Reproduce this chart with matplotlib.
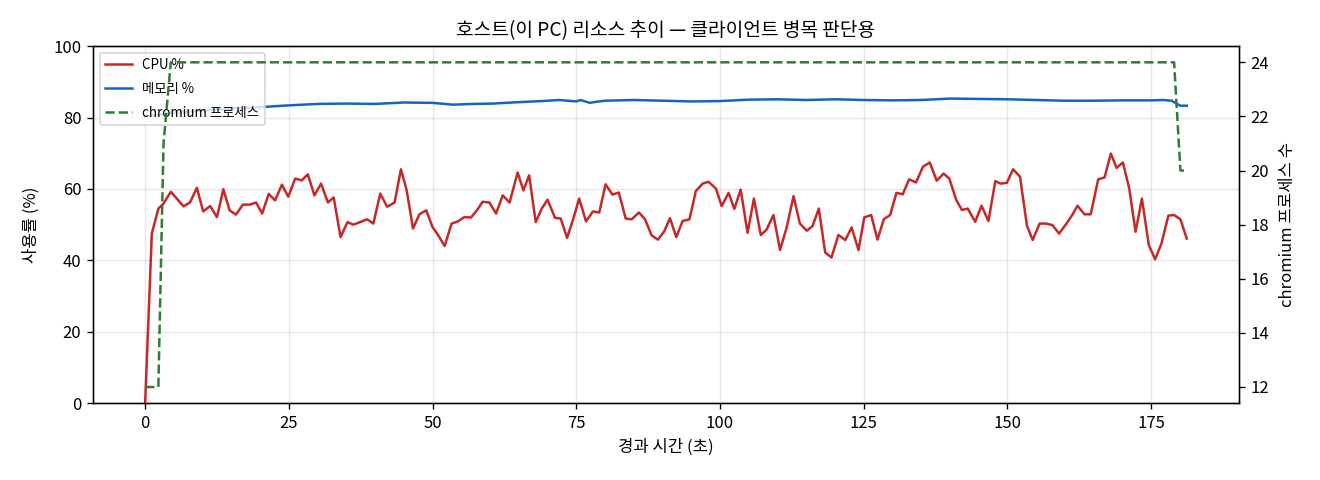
import matplotlib
matplotlib.use("Agg")
import matplotlib.pyplot as plt

plt.rcParams['font.family'] = ['Noto Sans CJK KR', 'DejaVu Sans']
plt.rcParams['axes.unicode_minus'] = False

# ---- data ----
cpu_t = [0.0, 1.16, 2.3, 3.2, 4.46, 5.5, 6.67, 7.8, 9.0, 10.1, 11.3, 12.5, 13.6, 14.7, 15.8,
         17.0, 18.2, 19.3, 20.35, 21.5, 22.6, 23.8, 24.9, 26.1, 27.25, 28.3, 29.45, 30.6, 31.8,
         32.8, 34.0, 35.2, 36.2, 37.4, 38.6, 39.7, 40.9, 42.1, 43.4, 44.5, 45.5, 46.6, 47.7,
         48.9, 50.0, 51.0, 52.1, 53.3, 54.4, 55.5, 56.7, 57.8, 58.7, 59.9, 61.05, 62.2, 63.4,
         64.8, 65.8, 66.8, 67.95, 69.0, 70.0, 71.3, 72.3, 73.4, 74.5, 75.5, 76.7, 77.9, 79.0,
         80.1, 81.3, 82.4, 83.6, 84.65, 85.9, 86.97, 88.1, 89.2, 90.3, 91.3, 92.4, 93.5, 94.7,
         95.8, 97.0, 98.0, 99.3, 100.3, 101.5, 102.5, 103.6, 104.8, 105.9, 107.1, 108.1, 109.3,
         110.45, 111.6, 112.8, 113.9, 115.1, 116.1, 117.2, 118.3, 119.4, 120.6, 121.8, 122.9,
         124.1, 125.1, 126.3, 127.4, 128.5, 129.6, 130.7, 131.8, 132.9, 134.1, 135.3, 136.5,
         137.7, 138.9, 139.9, 141.1, 142.1, 143.1, 144.4, 145.5, 146.7, 147.9, 148.8, 149.9,
         151.0, 152.2, 153.4, 154.4, 155.6, 156.7, 157.8, 159.0, 160.1, 161.2, 162.2, 163.4,
         164.5, 165.8, 166.9, 168.0, 169.0, 170.1, 171.2, 172.3, 173.4, 174.6, 175.7, 176.8,
         178.0, 179.0, 180.1, 181.2]
cpu_v = [0.0, 47.5, 54.5, 55.9, 59.2, 57.3, 55.1, 56.2, 60.3, 53.7, 55.2, 52.1, 59.9, 54.0, 52.8,
         55.6, 55.6, 56.2, 53.1, 58.6, 56.8, 61.2, 57.8, 62.9, 62.4, 64.1, 58.2, 61.5, 56.2,
         57.6, 46.5, 50.7, 50.0, 50.7, 51.5, 50.3, 58.7, 55.0, 56.2, 65.5, 59.6, 48.9, 52.9,
         54.0, 49.3, 47.0, 44.0, 50.3, 50.9, 52.1, 52.0, 54.2, 56.4, 56.2, 53.1, 58.2, 56.2,
         64.6, 59.6, 63.8, 50.7, 54.5, 57.0, 51.9, 51.7, 46.3, 51.7, 57.3, 50.9, 53.7, 53.4,
         61.3, 58.4, 59.0, 51.7, 51.5, 53.4, 51.5, 47.0, 45.8, 48.1, 51.8, 46.5, 51.0, 51.5,
         59.4, 61.5, 62.0, 60.1, 55.2, 58.9, 54.4, 59.8, 47.7, 57.3, 47.1, 48.6, 52.7,
         42.9, 49.2, 58.0, 50.3, 48.3, 49.6, 54.5, 42.2, 40.8, 47.1, 45.7, 49.2,
         42.9, 52.0, 52.7, 45.8, 51.5, 52.7, 58.9, 58.5, 62.7, 61.8, 66.2, 67.4,
         62.3, 64.3, 62.9, 56.9, 54.1, 54.5, 50.8, 55.3, 51.0, 62.2, 61.5, 61.7,
         65.5, 63.4, 49.7, 45.7, 50.3, 50.3, 49.9, 47.5, 49.9, 52.5, 55.3, 52.9,
         52.9, 62.7, 63.2, 69.9, 65.9, 67.4, 60.1, 48.0, 57.3, 44.3, 40.3, 44.7,
         52.5, 52.7, 51.5, 46.1]

mem_t = [0, 5, 10, 15, 20, 25, 30, 35, 40, 45, 50, 53.5, 57, 60.5, 65, 69, 72, 75, 75.7, 77.4,
         78, 80, 85, 90, 95, 100, 105, 110, 115, 120, 125, 130, 135, 140, 145, 150, 155, 160,
         165, 170, 175, 177, 178.6, 179.4, 180.1, 181.2]
mem_v = [80.3, 81.3, 82.0, 82.5, 82.9, 83.4, 83.8, 83.9, 83.8, 84.2, 84.1, 83.6, 83.8, 83.9,
         84.3, 84.6, 84.9, 84.5, 84.9, 84.1, 84.3, 84.7, 84.9, 84.7, 84.5, 84.6, 85.0, 85.1,
         84.9, 85.1, 84.9, 84.8, 84.9, 85.3, 85.2, 85.1, 84.9, 84.7, 84.7, 84.8, 84.8, 84.9,
         84.7, 83.9, 83.3, 83.3]

proc_t = [0.0, 1.16, 2.3, 3.2, 4.46, 179.0, 180.1, 181.2]
proc_v = [12, 12, 12, 21, 24, 24, 20, 20]

x_ticks = [0, 25, 50, 75, 100, 125, 150, 175]
y_ticks = [0, 20, 40, 60, 80, 100]
y2_ticks = [12, 14, 16, 18, 20, 22, 24]

# ---- plot ----
fig = plt.figure(figsize=(11, 4), dpi=120)
ax = fig.add_axes([0.0705, 0.160, 0.868, 0.744])
ax2 = ax.twinx()

l1, = ax.plot(cpu_t, cpu_v, color='#c62828', lw=1.5, label='CPU %')
l2, = ax.plot(mem_t, mem_v, color='#1565c0', lw=1.5, label='메모리 %')
l3, = ax2.plot(proc_t, proc_v, color='#2e7d32', lw=1.5, ls='--', label='chromium 프로세스')

ax.set_ylim(0, 100)
ax.set_yticks(y_ticks)
ax.set_xticks(x_ticks)
ax2.set_yticks(y2_ticks)
ax.grid(True, alpha=0.3)

ax.set_xlabel('경과 시간 (초)', fontsize=10)
ax.set_ylabel('사용률 (%)', fontsize=10, labelpad=8)
ax2.set_ylabel('chromium 프로세스 수', fontsize=10, labelpad=6)
ax.set_title('호스트(이 PC) 리소스 추이 — 클라이언트 병목 판단용', fontsize=11.5)
ax.tick_params(labelsize=10)
ax2.tick_params(labelsize=10)

ax.legend(handles=[l1, l2, l3], loc='upper left', fontsize=8, labelspacing=0.75)

fig.savefig('out.png', dpi=120)
